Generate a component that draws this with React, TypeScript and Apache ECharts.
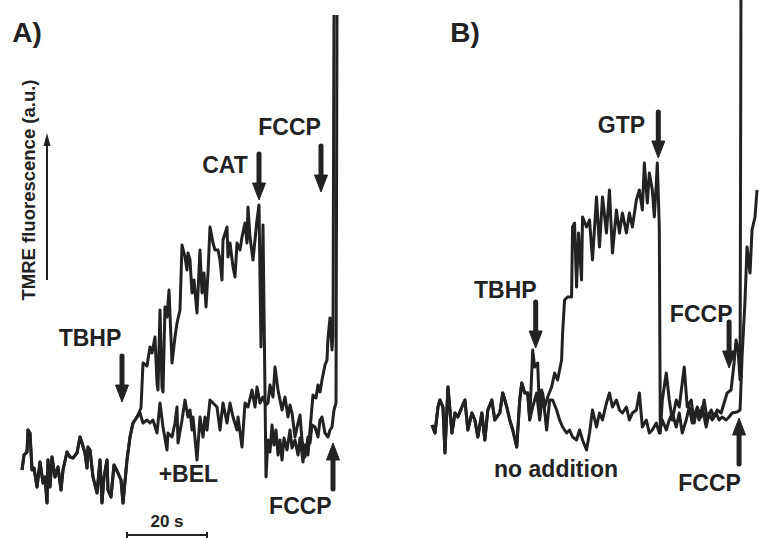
import React, { useEffect, useRef } from "react";
import * as echarts from "echarts";

// time (s) vs TMRE fluorescence (a.u.)
const aShared: [number, number][] = [
  [0.5, 50], [1, 65], [1.75, 68], [2, 90], [2.5, 87], [3, 50], [3.5, 52], [4.25, 33], [5, 58], [5.75, 37],
  [6.25, 43], [6.75, 17], [7, 60], [7.5, 33], [8, 63], [8.75, 43], [9.5, 53], [10.25, 30], [10.75, 50],
  [11.75, 68], [12.5, 63], [13.25, 62], [14.25, 67], [15, 83], [15.5, 77], [16.25, 67], [16.75, 52], [17, 73],
  [17.5, 70], [18.25, 43], [19.25, 27], [20, 60], [20.5, 17], [21, 43], [21.75, 60], [22, 30], [22.75, 23],
  [23.5, 55], [24.5, 47], [25.25, 40], [25.75, 17], [26.75, 60], [27.5, 83], [28.25, 97],
];

const aTbhpCat: [number, number][] = [
  [29.25, 103], [30.25, 112], [30.75, 157], [31.75, 154], [32.5, 173], [33, 167], [33.75, 183], [34.25, 137],
  [34.5, 130], [35, 210], [35.5, 133], [35.75, 128], [36.25, 213], [36.75, 203], [37.25, 230], [38, 157],
  [38.75, 183], [39.25, 197], [40, 210], [40.5, 275], [41.25, 263], [41.75, 250], [42, 267], [42.5, 260],
  [43, 227], [43.5, 240], [44.25, 207], [45, 270], [45.5, 227], [46, 247], [46.5, 213], [47, 247], [47.5, 293],
  [48.25, 277], [48.75, 270], [49.5, 270], [50, 260], [50.5, 240], [50.75, 280], [51.75, 293], [52, 263],
  [52.5, 277], [53.25, 253], [53.75, 243], [54.25, 277], [55, 270], [55.5, 283], [56.25, 297], [56.75, 277],
  [57, 313], [57.5, 283], [58.25, 260], [59.25, 300], [59.75, 315], [60.25, 173], [60.75, 295], [61.5, 43],
  [62, 80], [62.5, 68], [63, 95], [63.5, 75], [64, 90], [64.5, 65], [65, 80], [65.5, 60], [66, 82],
  [66.75, 70], [67.5, 90], [68, 72], [68.75, 80], [69.5, 65], [70, 82], [70.75, 58], [71.25, 75], [72, 65],
  [72.5, 90], [73.25, 125], [74, 122], [74.5, 135], [75, 128], [75.5, 140], [76.25, 155], [76.75, 160],
  [77, 182], [77.5, 202], [78, 170], [78.25, 185], [78.5, 505],
];

const aTbhpBel: [number, number][] = [
  [29.25, 103], [30, 107], [30.75, 97], [31.75, 100], [32.5, 97], [33.25, 100], [34.25, 87], [35, 117],
  [35.75, 93], [36.75, 70], [37, 87], [38, 83], [38.75, 97], [39.25, 113], [39.5, 77], [40.5, 100],
  [41.25, 120], [42, 103], [42.5, 110], [43, 90], [43.25, 103], [44.25, 60], [45, 103], [45.75, 83],
  [46.25, 103], [46.75, 90], [47.5, 120], [48.25, 117], [49.25, 113], [50, 90], [50.75, 117], [51.75, 97],
  [52.5, 117], [53.25, 103], [54.25, 90], [54.5, 103], [55.5, 73], [56.25, 117], [57, 113], [58, 130],
  [58.75, 113], [59.25, 133], [60, 117], [60.75, 123], [61.5, 115], [62, 117], [62.5, 135], [63.25, 123],
  [63.75, 153], [64.5, 130], [65, 120], [65.5, 110], [66.25, 123], [67, 103], [67.5, 115], [68, 107],
  [68.75, 83], [69.5, 97], [70, 105], [70.5, 80], [71.25, 63], [72, 83], [72.5, 77], [73, 95], [73.75, 93],
  [74.5, 83], [75, 100], [75.5, 103], [76.25, 87], [77, 83], [77.5, 90], [78, 93], [78.5, 110], [79, 117],
  [79.25, 505],
];

const bShared: [number, number][] = [
  [0, 95], [0.75, 87], [1.5, 113], [2, 120], [2.75, 113], [3.25, 67], [4, 133], [5, 87], [5.75, 107],
  [6.5, 103], [7.5, 113], [8.25, 120], [9, 90], [10, 107], [10.75, 100], [11.5, 83], [12.5, 107], [13.25, 80],
  [14, 110], [15, 120], [15.75, 100], [17, 107], [17.75, 127], [18.75, 113], [19.5, 100], [20.25, 90],
  [21.25, 73], [22, 120], [22.5, 137], [23.25, 127], [24, 127], [24.5, 100],
];

const bTbhpGtp: [number, number][] = [
  [25.25, 170], [25.75, 153], [26.5, 157], [27, 103], [27.5, 130], [28.25, 113], [29, 123], [30, 133],
  [30.75, 147], [31.5, 140], [32.5, 160], [32.75, 187], [33.25, 220], [34, 223], [35, 223], [35.25, 293],
  [35.75, 297], [36.25, 233], [36.75, 287], [37.5, 240], [37.75, 303], [38.75, 293], [39.5, 300], [40.25, 260],
  [41.25, 323], [42, 273], [42.75, 323], [43.75, 287], [44.5, 330], [45.25, 267], [46.25, 310], [47, 287],
  [47.75, 307], [48.75, 287], [49.5, 307], [50.25, 293], [51.25, 320], [52, 330], [52.75, 310], [53.25, 357],
  [54, 317], [54.5, 347], [55.25, 330], [55.75, 303], [56.25, 337], [56.5, 357], [57, 293], [57.25, 87],
  [57.75, 120], [58.75, 147], [59.5, 120], [60.25, 100], [61.25, 120], [62, 113], [63.25, 153], [64, 113],
  [65, 120], [65.75, 97], [66.5, 113], [67.5, 103], [68.25, 120], [69, 100], [70, 110], [70.75, 103],
  [71.5, 110], [72.5, 107], [73.25, 117], [74, 127], [75, 130], [75.75, 157], [76.25, 180], [76.75, 170],
  [77.25, 140], [77.5, 560],
];

const bNoAddition: [number, number][] = [
  [25.25, 113], [26.25, 127], [27, 100], [27.75, 127], [28.75, 90], [29.5, 120], [30.25, 120], [31.25, 110],
  [32, 100], [32.75, 93], [33.75, 87], [34.5, 90], [35.25, 83], [36.25, 80], [37, 90], [37.75, 80],
  [38.75, 70], [39.5, 87], [40.25, 110], [41.25, 93], [42, 107], [42.75, 100], [43.75, 117], [44.5, 127],
  [45.25, 113], [46.25, 120], [47, 110], [47.75, 107], [48.75, 113], [49.5, 100], [50.25, 107], [51.25, 110],
  [52, 127], [52.75, 93], [53.75, 100], [54.5, 87], [55.25, 90], [56.25, 97], [57, 87], [57.75, 100],
  [58.75, 90], [59.5, 100], [60.25, 107], [61.25, 93], [62, 107], [62.75, 87], [63.75, 100], [64.5, 113],
  [65.25, 97], [66.25, 110], [67, 100], [67.75, 113], [68.75, 93], [69.5, 107], [70.25, 100], [71.25, 107],
  [72, 100], [72.75, 103], [73.75, 100], [74.5, 103], [75.25, 107], [76.5, 108], [77.25, 110], [77.75, 163],
  [78.5, 220], [79, 273], [79.75, 247], [80.25, 290], [81, 303], [81.5, 330],
];

// additions: [panel, time (s), a.u. at arrow tip, direction]
const arrowMarks: [number, number, number, "down" | "up"][] = [
  [0, 25.5, 118, "down"],
  [0, 59.75, 320, "down"],
  [0, 75.25, 328, "down"],
  [0, 78.25, 77, "up"],
  [1, 26, 172, "down"],
  [1, 56.75, 362, "down"],
  [1, 74.5, 152, "down"],
  [1, 77, 102, "up"],
];

// labels: [panel, time (s), a.u., text]
const labelMarks: [number, number, number, string][] = [
  [0, 17.5, 182, "TBHP"],
  [0, 51.25, 355, "CAT"],
  [0, 67.4, 393, "FCCP"],
  [0, 42.1, 46, "+BEL"],
  [0, 70.1, 14, "FCCP"],
  [1, 18.4, 230, "TBHP"],
  [1, 47.5, 395, "GTP"],
  [1, 67.5, 206, "FCCP"],
  [1, 31.1, 51, "no addition"],
  [1, 69.6, 37, "FCCP"],
];

const scaleBar = { start: 26.75, seconds: 20, label: "20 s" };
const panelLetters = ["A)", "B)"];
const yTitle = "TMRE fluorescence (a.u.)";

const INK = "#222222";
const FONT = "'Liberation Sans', Arial, sans-serif";

export default function App() {
  const ref = useRef<HTMLDivElement>(null);

  useEffect(() => {
    document.body.style.margin = "0";
    const chart = echarts.init(ref.current!, null, { renderer: "svg" });
    const line = (data: [number, number][], idx: number) => ({
      type: "line",
      data,
      xAxisIndex: idx,
      yAxisIndex: idx,
      showSymbol: false,
      symbol: "none",
      clip: true,
      lineStyle: { color: INK, width: 3, join: "round" },
      silent: true,
    });
    chart.setOption({
      animation: false,
      backgroundColor: "#ffffff",
      grid: [
        { left: 20, top: 0, width: 320, height: 520 },
        { left: 432, top: 0, width: 328, height: 520 },
      ],
      xAxis: [
        { type: "value", gridIndex: 0, min: 0, max: 80, show: false },
        { type: "value", gridIndex: 1, min: 0, max: 82, show: false },
      ],
      yAxis: [
        { type: "value", gridIndex: 0, min: 0, max: 520, show: false },
        { type: "value", gridIndex: 1, min: 0, max: 520, show: false },
      ],
      series: [
        line(aShared.concat(aTbhpBel), 0),
        line(aShared.concat(aTbhpCat), 0),
        line(bShared.concat(bNoAddition), 1),
        line(bShared.concat(bTbhpGtp), 1),
      ],
    });

    const toPx = (g: number, t: number, v: number) =>
      chart.convertToPixel({ gridIndex: g }, [t, v]) as number[];

    const elements: any[] = [];
    const txt = (x: number, y: number, text: string, size: number, extra: any = {}) => ({
      type: "text",
      x,
      y,
      ...extra,
      style: {
        text,
        fontSize: size,
        fontWeight: "bold",
        fontFamily: FONT,
        fill: INK,
        align: "center",
        verticalAlign: "middle",
      },
    });

    arrowMarks.forEach(([g, t, v, dir]) => {
      const [x, tipY] = toPx(g, t, v);
      const len = 46;
      const headH = 17;
      const headW = 13;
      const s = dir === "down" ? 1 : -1;
      const tailY = tipY - s * len;
      const baseY = tipY - s * headH;
      elements.push({
        type: "line",
        shape: { x1: x, y1: tailY, x2: x, y2: baseY + s * 2 },
        style: { stroke: INK, lineWidth: 5, lineCap: "round" },
      });
      elements.push({
        type: "polygon",
        shape: { points: [[x - headW / 2, baseY], [x + headW / 2, baseY], [x, tipY]] },
        style: { fill: INK, stroke: INK, lineWidth: 1, lineJoin: "round" },
      });
    });

    labelMarks.forEach(([g, t, v, text]) => {
      const [x, y] = toPx(g, t, v);
      elements.push(txt(x, y, text, 23));
    });

    // scale bar
    const [sx1] = toPx(0, scaleBar.start, 0);
    const [sx2] = toPx(0, scaleBar.start + scaleBar.seconds, 0);
    const barY = 535;
    elements.push({ type: "line", shape: { x1: sx1, y1: barY, x2: sx2, y2: barY }, style: { stroke: INK, lineWidth: 2 } });
    elements.push({ type: "line", shape: { x1: sx1, y1: barY - 3, x2: sx1, y2: barY + 3 }, style: { stroke: INK, lineWidth: 2 } });
    elements.push({ type: "line", shape: { x1: sx2, y1: barY - 3, x2: sx2, y2: barY + 3 }, style: { stroke: INK, lineWidth: 2 } });
    elements.push(txt((sx1 + sx2) / 2, 521, scaleBar.label, 17));

    // panel letters
    elements.push(txt(27, 32, panelLetters[0], 28));
    elements.push(txt(465, 32, panelLetters[1], 28));

    // y title and arrow
    elements.push(txt(28, 190, yTitle, 18.5, { rotation: Math.PI / 2 }));
    elements.push({ type: "line", shape: { x1: 47, y1: 280, x2: 47, y2: 143 }, style: { stroke: INK, lineWidth: 2 } });
    elements.push({
      type: "polygon",
      shape: { points: [[43.5, 146], [50.5, 146], [47, 133]] },
      style: { fill: INK },
    });

    chart.setOption({ graphic: elements });
    return () => chart.dispose();
  }, []);

  return <div ref={ref} style={{ width: 759, height: 538 }} />;
}
